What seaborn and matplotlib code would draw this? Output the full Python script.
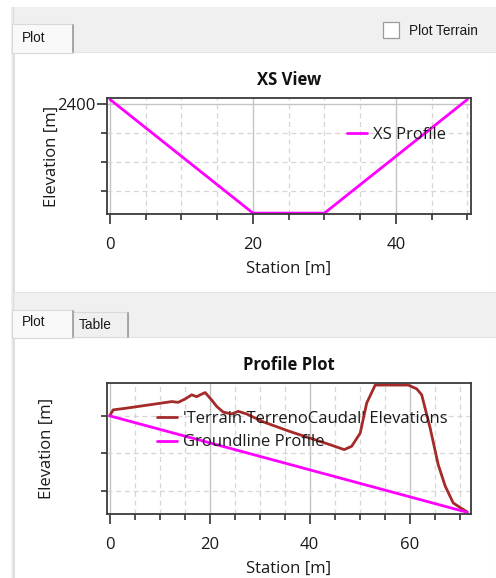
import matplotlib
matplotlib.use("Agg")
import matplotlib.pyplot as plt
from matplotlib.patches import Rectangle
from matplotlib.ticker import MultipleLocator, FixedLocator, FixedFormatter
import seaborn as sns
import pandas as pd

# Cross-section profile
xs_station = [0, 20, 30, 50]
xs_elev = [2400.17, 2396.25, 2396.25, 2400.17]

# Terrain elevations along the reach
terrain_station = [0, 0.7, 3.1, 11.4, 12.4, 13.7, 15.1, 16.4, 17.4, 18.1, 19.1, 20.4,
                   21.4, 22.7, 24.4, 25.7, 27.4, 30.7, 36.1, 44.1, 46.9, 48.4, 50.1,
                   51.4, 53.1, 59.7, 61.4, 62.4, 64.1, 65.7, 67.1, 68.7, 70.4, 71.5]
terrain_elev = [2403.00, 2403.16, 2403.20, 2403.36, 2403.38, 2403.36, 2403.45, 2403.56,
                2403.51, 2403.56, 2403.62, 2403.42, 2403.25, 2403.10, 2403.05, 2403.12,
                2403.05, 2402.84, 2402.58, 2402.23, 2402.10, 2402.19, 2402.54, 2403.34,
                2403.82, 2403.82, 2403.72, 2403.56, 2402.67, 2401.70, 2401.13, 2400.68,
                2400.53, 2400.44]

# Groundline profile
ground_station = [0, 71.5]
ground_elev = [2403.00, 2400.43]

terrain_label = "'Terrain.TerrenoCaudal' Elevations"
ground_label = "Groundline Profile"
xs_label = "XS Profile"

sns.set_style("white")
plt.rcParams["font.family"] = ["Open Sans", "DejaVu Sans"]

W, H = 496, 578
fig = plt.figure(figsize=(W / 100, H / 100), dpi=100, facecolor="#F0F0F0")

# Window chrome drawn in pixel coordinates
bg = fig.add_axes([0, 0, 1, 1], zorder=-10)
bg.set_xlim(0, W)
bg.set_ylim(H, 0)
bg.axis("off")

def rect(x0, y0, x1, y1, fc, ec="none", lw=0.0, z=0):
    bg.add_patch(Rectangle((x0, y0), x1 - x0, y1 - y0, facecolor=fc,
                           edgecolor=ec, linewidth=lw, zorder=z))

ui_font = dict(family=["Liberation Sans", "DejaVu Sans"], fontsize=9.8, color="#1A1A1A")

rect(0, 0, W, 7, "white")
rect(0, 0, 11, H, "white")
bg.plot([12.5, 12.5], [7, H], color="#DCDCDC", lw=1)

# Upper panel
rect(14, 52, W, 292, "white", "#E3E3E3", 0.8)
rect(12, 24, 73, 53, "#F9F9F9", "#D9D9D9", 0.8, z=2)
bg.plot([73, 73], [25, 52], color="#9A9A9A", lw=1.2, zorder=3)
bg.text(22, 38, "Plot", va="center", ha="left", zorder=4, **ui_font)
rect(383, 22, 399, 38, "white", "#9A9A9A", 0.9)
bg.text(409, 31, "Plot Terrain", va="center", ha="left", **ui_font)

# Lower panel
rect(14, 337, W, H + 5, "white", "#E3E3E3", 0.8)
rect(12, 310, 73, 338, "#F9F9F9", "#D9D9D9", 0.8, z=2)
bg.plot([73, 73], [311, 337], color="#9A9A9A", lw=1.2, zorder=3)
bg.text(22, 322, "Plot", va="center", ha="left", zorder=4, **ui_font)
rect(73, 312, 128, 337, "#F0F0F0", "#D9D9D9", 0.8, z=1)
bg.plot([128, 128], [313, 337], color="#9A9A9A", lw=1.2, zorder=3)
bg.text(79, 325, "Table", va="center", ha="left", zorder=4, **ui_font)

def add_px_axes(x0, y0, x1, y1):
    return fig.add_axes([x0 / W, 1 - y1 / H, (x1 - x0) / W, (y1 - y0) / H])

def style_axes(ax, title):
    ax.set_facecolor("white")
    for s in ax.spines.values():
        s.set_color("#3A3A3A")
        s.set_linewidth(1.3)
    ax.grid(which="major", color="#C4C4C4", linestyle="-", linewidth=1.0)
    ax.grid(which="minor", color="#D6D6D6", linestyle=(0, (4, 3)), linewidth=0.9)
    ax.set_axisbelow(True)
    ax.tick_params(which="both", bottom=True, left=True, top=False, right=False)
    ax.tick_params(which="major", direction="out", length=7, width=1.1,
                   color="#202020", labelsize=12, labelcolor="#1A1A1A")
    ax.tick_params(axis="x", which="major", pad=9.5)
    ax.tick_params(which="minor", direction="out", length=4, width=1.1, color="#202020")
    ax.set_title(title, fontsize=12, fontweight="bold", color="#111111", pad=9.5)
    ax.set_xlabel("Station [m]", fontsize=12, color="#1A1A1A", labelpad=6)

# XS View
ax1 = add_px_axes(107, 98, 471, 214)
df_xs = pd.DataFrame({"Station": xs_station, "Elevation": xs_elev})
sns.lineplot(data=df_xs, x="Station", y="Elevation", sort=False, ax=ax1,
             color="#FF00FF", linewidth=2.0, label=xs_label)
ax1.set_xlim(-0.42, 50.5)
ax1.set_ylim(2396.22, 2400.22)
ax1.xaxis.set_major_locator(MultipleLocator(20))
ax1.xaxis.set_minor_locator(MultipleLocator(5))
ax1.yaxis.set_major_locator(FixedLocator([2400]))
ax1.yaxis.set_minor_locator(FixedLocator([2397, 2398, 2399]))
ax1.yaxis.set_major_formatter(FixedFormatter(["2400"]))
style_axes(ax1, "XS View")
ax1.tick_params(axis="y", which="major", pad=1.5)
ax1.set_ylabel("Elevation [m]", fontsize=12, color="#1A1A1A", labelpad=-2)
ax1.legend(loc="center left", bbox_to_anchor=(0.66, 0.685), frameon=False,
           fontsize=12, handlelength=1.2, handletextpad=0.35, borderpad=0,
           borderaxespad=0, labelcolor="#1A1A1A")

# Profile Plot
ax2 = add_px_axes(107, 383, 471, 514)
df_t = pd.DataFrame({"Station": terrain_station, "Elevation": terrain_elev})
df_g = pd.DataFrame({"Station": ground_station, "Elevation": ground_elev})
sns.lineplot(data=df_t, x="Station", y="Elevation", sort=False, ax=ax2,
             color="#A52A2A", linewidth=2.0, label=terrain_label)
sns.lineplot(data=df_g, x="Station", y="Elevation", sort=False, ax=ax2,
             color="#FF00FF", linewidth=2.0, label=ground_label)
ax2.set_xlim(-0.54, 72.26)
ax2.set_ylim(2400.385, 2403.875)
ax2.xaxis.set_major_locator(MultipleLocator(20))
ax2.xaxis.set_minor_locator(MultipleLocator(5))
ax2.yaxis.set_major_locator(FixedLocator([]))
ax2.yaxis.set_minor_locator(FixedLocator([2401, 2402, 2403]))
style_axes(ax2, "Profile Plot")
ax2.set_ylabel("Elevation [m]", fontsize=12, color="#1A1A1A", labelpad=30.5)
ax2.legend(loc="upper left", bbox_to_anchor=(0.137, 0.785), frameon=False,
           fontsize=12, handlelength=1.2, handletextpad=0.35, borderpad=0,
           borderaxespad=0, labelspacing=0.44, labelcolor="#1A1A1A")

fig.savefig("out.png", dpi=100, facecolor=fig.get_facecolor())
